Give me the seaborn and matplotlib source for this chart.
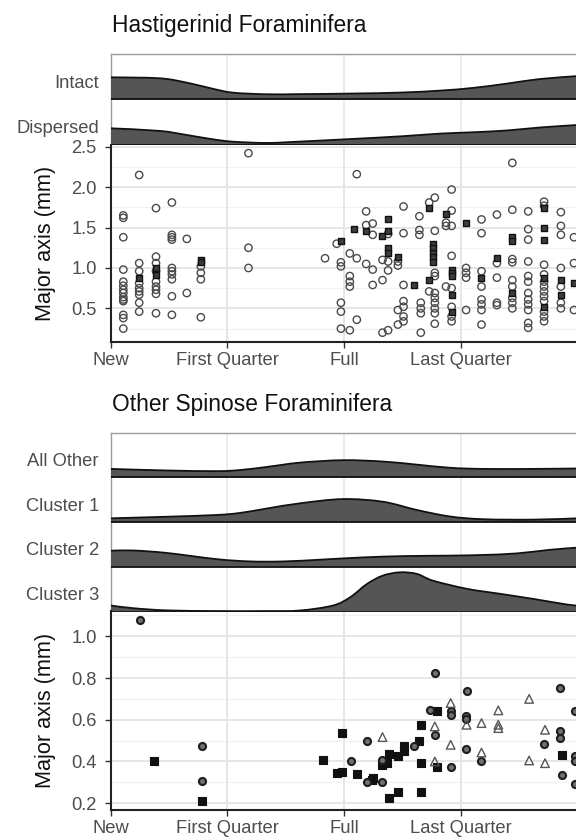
import numpy as np
import pandas as pd
import matplotlib
matplotlib.use("Agg")
import matplotlib.pyplot as plt
from matplotlib.ticker import FixedLocator
from matplotlib.path import Path
from matplotlib.patches import PathPatch
import seaborn as sns

# ---------------- data ----------------
phase_ticks = [0.0, 0.25, 0.5, 0.75]
phase_labels = ["New", "First Quarter", "Full", "Last Quarter"]

# Ridge heights (fraction of a band) read at lunar-phase positions
hast_groups = ["Dispersed", "Intact"]
intact_x = [0.0, 0.105, 0.163, 0.219, 0.262, 0.335, 0.405, 0.512, 0.62, 0.705, 0.776, 0.849, 0.919, 1.0]
intact_h = [0.488, 0.466, 0.37, 0.235, 0.15, 0.115, 0.118, 0.13, 0.152, 0.195, 0.255, 0.35, 0.45, 0.515]
dispersed_x = [0.0, 0.105, 0.163, 0.219, 0.262, 0.335, 0.405, 0.512, 0.62, 0.705, 0.776, 0.849, 0.919, 1.0]
dispersed_h = [0.367, 0.31, 0.22, 0.125, 0.073, 0.045, 0.075, 0.13, 0.19, 0.25, 0.28, 0.32, 0.385, 0.44]

other_groups = ["Cluster 3", "Cluster 2", "Cluster 1", "All Other"]
allother_x = [0.0, 0.12, 0.228, 0.277, 0.335, 0.405, 0.497, 0.583, 0.656, 0.727, 0.797, 0.904, 1.0]
allother_h = [0.19, 0.155, 0.14, 0.165, 0.235, 0.33, 0.385, 0.355, 0.285, 0.215, 0.19, 0.19, 0.20]
cl1_x = [0.0, 0.12, 0.228, 0.277, 0.335, 0.405, 0.497, 0.583, 0.656, 0.727, 0.797, 0.904, 1.0]
cl1_h = [0.085, 0.12, 0.16, 0.205, 0.305, 0.42, 0.515, 0.455, 0.27, 0.125, 0.065, 0.055, 0.085]
cl2_x = [0.0, 0.048, 0.12, 0.228, 0.30, 0.37, 0.45, 0.54, 0.63, 0.727, 0.797, 0.87, 0.94, 1.0]
cl2_h = [0.36, 0.365, 0.31, 0.17, 0.12, 0.12, 0.16, 0.21, 0.24, 0.25, 0.265, 0.30, 0.38, 0.43]
cl3_x = [0.0, 0.048, 0.12, 0.228, 0.335, 0.405, 0.476, 0.513, 0.549, 0.583, 0.62, 0.656, 0.69, 0.763, 0.834, 0.904, 0.977, 1.0]
cl3_h = [0.134, 0.074, 0.025, 0.01, 0.01, 0.022, 0.134, 0.32, 0.618, 0.804, 0.877, 0.84, 0.69, 0.507, 0.395, 0.283, 0.156, 0.134]

# Hastigerinid scatter: (phase, major axis mm)
hast_circ_phase = ([0.027] * 14 + [0.061] * 9 + [0.097] * 9 + [0.131] * 10 + [0.163] * 2 + [0.193] * 4 +
                   [0.295] * 3 + [0.459] + [0.484] + [0.493] * 5 + [0.512] * 5 + [0.527] * 3 + [0.547] * 3 +
                   [0.561] * 4 + [0.582] * 3 + [0.594] * 4 + [0.615] * 4 + [0.627] * 7 + [0.661] * 3 +
                   [0.664] * 4 + [0.682] * 2 + [0.694] * 10 + [0.718] * 3 + [0.73] * 8 + [0.761] * 4 +
                   [0.794] * 8 + [0.827] * 5 + [0.86] * 9 + [0.894] * 12 + [0.928] * 12 + [0.964] * 7 + [0.992] * 3)
hast_circ_size = [1.65, 1.62, 1.38, 0.98, 0.83, 0.78, 0.73, 0.69, 0.64, 0.61, 0.59, 0.42, 0.38, 0.25,
                  2.15, 1.06, 0.96, 0.81, 0.75, 0.71, 0.67, 0.57, 0.46,
                  1.74, 1.14, 1.06, 0.96, 0.83, 0.77, 0.73, 0.68, 0.44,
                  1.81, 1.41, 1.38, 1.35, 1.00, 0.96, 0.92, 0.86, 0.65, 0.42,
                  1.36, 0.69,
                  1.02, 0.94, 0.86, 0.39,
                  2.42, 1.25, 1.00,
                  1.12,
                  1.30,
                  1.07, 1.02, 0.57, 0.46, 0.25,
                  1.18, 0.90, 0.83, 0.77, 0.23,
                  2.16, 1.12, 0.36,
                  1.70, 1.53, 1.05,
                  1.55, 1.41, 0.98, 0.79,
                  1.10, 0.85, 0.20,
                  1.42, 1.08, 0.97, 0.23,
                  1.08, 1.03, 0.48, 0.30,
                  1.76, 1.43, 0.79, 0.59, 0.52, 0.40, 0.34,
                  1.64, 1.47, 1.41,
                  0.57, 0.50, 0.44, 0.20,
                  1.81, 0.71,
                  1.87, 1.46, 0.94, 0.90, 0.69, 0.63, 0.57, 0.50, 0.44, 0.31,
                  1.56, 1.52, 0.77,
                  1.97, 1.71, 1.52, 1.15, 0.75, 0.52, 0.40, 0.34,
                  1.00, 0.94, 0.88, 0.48,
                  1.60, 1.43, 0.96, 0.77, 0.61, 0.55, 0.48, 0.30,
                  1.66, 1.06, 0.88, 0.57, 0.54,
                  2.30, 1.72, 1.11, 1.07, 0.85, 0.77, 0.63, 0.57, 0.50,
                  1.70, 1.48, 1.35, 1.08, 0.90, 0.83, 0.69, 0.61, 0.55, 0.48, 0.32, 0.26,
                  1.82, 1.77, 1.04, 0.92, 0.83, 0.77, 0.71, 0.65, 0.59, 0.46, 0.40, 0.34,
                  1.69, 1.52, 1.41, 1.00, 0.77, 0.57, 0.50,
                  1.38, 1.06, 0.48]
hast_sq_phase = ([0.061] + [0.097] * 2 + [0.193] * 2 + [0.493] + [0.52] + [0.547] + [0.582] + [0.594] * 4 +
                 [0.615] + [0.649] + [0.682] * 2 + [0.691] * 5 + [0.718] + [0.73] * 5 + [0.761] + [0.794] +
                 [0.827] + [0.86] * 3 + [0.928] * 5 + [0.964] * 2 + [0.992])
hast_sq_size = [0.87, 1.00, 0.91, 1.10, 1.07, 1.33, 1.48, 1.46, 1.40, 1.60, 1.46, 1.25, 1.18,
                1.13, 0.79, 1.74, 0.85, 1.30, 1.25, 1.19, 1.13, 1.07, 1.67, 0.97, 0.94, 0.90, 0.67, 0.46,
                1.56, 0.88, 1.12, 1.38, 1.33, 0.69, 1.74, 1.50, 1.35, 0.88, 0.52, 0.85, 0.67, 0.81]

# Other spinose scatter
cl1_phase = [0.093, 0.195, 0.454, 0.495, 0.485, 0.495, 0.528, 0.562, 0.559, 0.58, 0.585, 0.592, 0.597,
             0.597, 0.616, 0.616, 0.628, 0.628, 0.661, 0.664, 0.664, 0.664, 0.698, 0.698, 0.966]
cl1_size = [0.40, 0.213, 0.405, 0.536, 0.347, 0.352, 0.341, 0.32, 0.309, 0.384, 0.395, 0.395, 0.437,
            0.224, 0.256, 0.424, 0.448, 0.475, 0.50, 0.576, 0.392, 0.256, 0.64, 0.376, 0.432]
cl2_phase = [0.063, 0.195, 0.195, 0.514, 0.548, 0.548, 0.582, 0.582, 0.649, 0.684, 0.694, 0.694,
             0.728, 0.728, 0.728, 0.762, 0.761, 0.761, 0.761, 0.794, 0.928, 0.962, 0.962, 0.962, 0.966,
             0.994, 0.994, 0.994, 0.994]
cl2_size = [1.08, 0.475, 0.307, 0.40, 0.496, 0.304, 0.405, 0.304, 0.472, 0.648, 0.824, 0.528,
            0.64, 0.624, 0.376, 0.736, 0.616, 0.604, 0.46, 0.40, 0.485, 0.752, 0.544, 0.512, 0.336,
            0.64, 0.424, 0.40, 0.293]
cl3_phase = [0.582, 0.694, 0.694, 0.728, 0.728, 0.762, 0.794, 0.794, 0.83, 0.83, 0.83, 0.896, 0.896, 0.93, 0.93]
cl3_size = [0.517, 0.568, 0.40, 0.68, 0.48, 0.576, 0.584, 0.443, 0.645, 0.576, 0.56, 0.70, 0.405, 0.552, 0.392]

# ---------------- style ----------------
sns.set_theme(style="white")
plt.rcParams["font.family"] = ["Liberation Sans", "DejaVu Sans"]

W, H = 576, 838
fig = plt.figure(figsize=(W / 100, H / 100), dpi=100)

TICK_C = "#4D4D4D"
GRID_MAJ = "#E6E6E6"
GRID_MIN = "#F2F2F2"
FILL = "#555555"
TICK_FS = 13.2
TITLE_FS = 16.4
YLAB_FS = 15.6


def rect(top, bottom, left=110.7, right=577.7):
    return [left / W, 1 - bottom / H, (right - left) / W, (bottom - top) / H]


def smooth_path_vertices(x, y):
    """Bezier (Catmull-Rom) control points passing through the read values."""
    pts = np.column_stack([x, y]).astype(float)
    verts = [tuple(pts[0])]
    codes = [Path.MOVETO]
    n = len(pts)
    for k in range(n - 1):
        p0 = pts[k - 1] if k > 0 else pts[k]
        p1, p2 = pts[k], pts[k + 1]
        p3 = pts[k + 2] if k + 2 < n else pts[k + 1]
        c1 = p1 + (p2 - p0) / 6.0
        c2 = p2 - (p3 - p1) / 6.0
        verts += [tuple(c1), tuple(c2), tuple(p2)]
        codes += [Path.CURVE4] * 3
    return verts, codes


def ridge_panel(ax, groups, xs, hs, label_offset=0.4):
    n = len(groups)
    ax.set_xlim(0, 1)
    ax.set_ylim(0, n)
    for xv in phase_ticks[1:] + [1.0]:
        ax.axvline(xv, color=GRID_MAJ, lw=1.1, zorder=0)
    for i in range(n - 1, -1, -1):
        x = np.asarray(xs[i], dtype=float)
        h = np.asarray(hs[i], dtype=float) + i
        verts, codes = smooth_path_vertices(x, h)
        fverts = verts + [(x[-1], i), (x[0], i), (x[0], i)]
        fcodes = codes + [Path.LINETO, Path.LINETO, Path.CLOSEPOLY]
        ax.add_patch(PathPatch(Path(fverts, fcodes), facecolor=FILL, edgecolor="none",
                               zorder=2 + 2 * (n - i)))
        ax.add_patch(PathPatch(Path(verts, codes), facecolor="none", edgecolor="#111111",
                               lw=1.3, zorder=3 + 2 * (n - i)))
        ax.plot([0, 1], [i, i], color="#111111", lw=1.3, zorder=3 + 2 * (n - i))
    ax.set_yticks([i + label_offset for i in range(n)])
    ax.set_yticklabels(groups)
    ax.set_xticks([])
    ax.tick_params(axis="y", length=0, pad=8.6, labelsize=TICK_FS, labelcolor=TICK_C)
    for s in ["right", "bottom"]:
        ax.spines[s].set_visible(False)
    for s in ["left", "top"]:
        ax.spines[s].set_color("#9A9A9A")
        ax.spines[s].set_linewidth(1.0)


def scatter_panel(ax, ylim, major, minor):
    ax.set_xlim(0, 1)
    ax.set_ylim(*ylim)
    ax.yaxis.set_major_locator(FixedLocator(major))
    ax.yaxis.set_minor_locator(FixedLocator(minor))
    ax.set_xticks(phase_ticks)
    ax.set_xticklabels(phase_labels)
    for yv in minor:
        ax.axhline(yv, color=GRID_MIN, lw=0.9, zorder=0)
    for yv in major:
        ax.axhline(yv, color=GRID_MAJ, lw=1.4, zorder=0)
    for xv in phase_ticks[1:] + [1.0]:
        ax.axvline(xv, color=GRID_MAJ, lw=1.4, zorder=0)
    ax.tick_params(axis="both", which="major", length=4.5, width=1.0, color="#333333",
                   labelsize=TICK_FS, labelcolor=TICK_C, direction="out")
    ax.tick_params(axis="y", which="major", pad=5.5, left=True)
    ax.tick_params(axis="x", which="major", pad=3.0, bottom=True)
    ax.tick_params(axis="y", which="minor", length=0)
    for s in ["right", "top"]:
        ax.spines[s].set_visible(False)
    for s in ["left", "bottom"]:
        ax.spines[s].set_color("#222222")
        ax.spines[s].set_linewidth(1.5)


# ---------------- top block ----------------
ax_r1 = fig.add_axes(rect(54, 145))
ridge_panel(ax_r1, hast_groups, [dispersed_x, intact_x], [dispersed_h, intact_h])

ax_s1 = fig.add_axes(rect(145, 341.7))
scatter_panel(ax_s1, (0.088, 2.521), [0.5, 1.0, 1.5, 2.0, 2.5], [0.25, 0.75, 1.25, 1.75, 2.25])
df_hc = pd.DataFrame({"phase": hast_circ_phase, "size": hast_circ_size})
df_hs = pd.DataFrame({"phase": hast_sq_phase, "size": hast_sq_size})
sns.scatterplot(data=df_hc, x="phase", y="size", ax=ax_s1, marker="o", s=28,
                facecolor="none", edgecolor="#4a4a4a", linewidth=1.0, zorder=3)
sns.scatterplot(data=df_hs, x="phase", y="size", ax=ax_s1, marker="s", s=24,
                facecolor="#3c3c3c", edgecolor="#111111", linewidth=1.0, zorder=4)
ax_s1.set_xlabel("")
ax_s1.set_ylabel("")

fig.text(111.7 / W, 1 - 31.7 / H, "Hastigerinid Foraminifera", fontsize=TITLE_FS, color="#111111",
         ha="left", va="baseline")
fig.text(45.5 / W, 1 - 243 / H, "Major axis (mm)", fontsize=YLAB_FS, color="#111111",
         rotation=90, ha="center", va="center")

# ---------------- bottom block ----------------
ax_r2 = fig.add_axes(rect(432.7, 611.5))
ridge_panel(ax_r2, other_groups, [cl3_x, cl2_x, cl1_x, allother_x], [cl3_h, cl2_h, cl1_h, allother_h])

ax_s2 = fig.add_axes(rect(611.5, 809.5))
scatter_panel(ax_s2, (0.170, 1.1186), [0.2, 0.4, 0.6, 0.8, 1.0], [0.3, 0.5, 0.7, 0.9, 1.1])
df_c1 = pd.DataFrame({"phase": cl1_phase, "size": cl1_size})
df_c2 = pd.DataFrame({"phase": cl2_phase, "size": cl2_size})
df_c3 = pd.DataFrame({"phase": cl3_phase, "size": cl3_size})
sns.scatterplot(data=df_c1, x="phase", y="size", ax=ax_s2, marker="s", s=26,
                facecolor="#111111", edgecolor="#111111", linewidth=0.8, zorder=3)
sns.scatterplot(data=df_c2, x="phase", y="size", ax=ax_s2, marker="o", s=26,
                facecolor="#707070", edgecolor="#1e1e1e", linewidth=1.5, zorder=4)
sns.scatterplot(data=df_c3, x="phase", y="size", ax=ax_s2, marker="^", s=38,
                facecolor="none", edgecolor="#555555", linewidth=1.0, zorder=5)
ax_s2.set_xlabel("")
ax_s2.set_ylabel("")

fig.text(111.7 / W, 1 - 411 / H, "Other Spinose Foraminifera", fontsize=TITLE_FS, color="#111111",
         ha="left", va="baseline")
fig.text(45.5 / W, 1 - 710.5 / H, "Major axis (mm)", fontsize=YLAB_FS, color="#111111",
         rotation=90, ha="center", va="center")

fig.savefig("out.png", dpi=100)
